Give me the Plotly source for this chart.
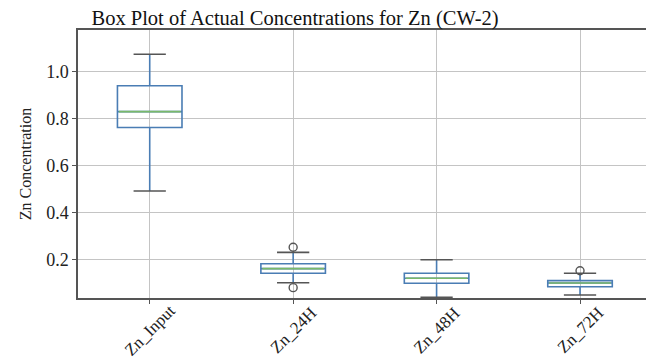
import plotly.graph_objects as go

categories = ["Zn_Input", "Zn_24H", "Zn_48H", "Zn_72H"]
q1 = [0.762, 0.142, 0.100, 0.085]
median = [0.830, 0.162, 0.121, 0.101]
q3 = [0.940, 0.183, 0.142, 0.111]
lower_whisker = [0.492, 0.102, 0.040, 0.050]
upper_whisker = [1.074, 0.231, 0.200, 0.142]
fliers = [[], [0.253, 0.081], [], [0.153]]

BOX_W = 0.45
CAP_W = 0.225
BLUE = "#4a7db4"
GREEN = "#7ab96a"
GRAY = "#555555"
SERIF = "Liberation Serif"

positions = list(range(len(categories)))
fig = go.Figure()

for i, cat in enumerate(categories):
    fig.add_trace(go.Box(
        x=[positions[i]], q1=[q1[i]], median=[median[i]], q3=[q3[i]],
        lowerfence=[lower_whisker[i]], upperfence=[upper_whisker[i]],
        width=BOX_W, whiskerwidth=0.0001,
        fillcolor="rgba(0,0,0,0)", line=dict(color=BLUE, width=1.6),
        boxpoints=False, showlegend=False, hoverinfo="skip", name=cat,
    ))

# medians
mx, my = [], []
for i in positions:
    mx += [i - BOX_W / 2 + 0.01, i + BOX_W / 2 - 0.01, None]
    my += [median[i], median[i], None]
fig.add_trace(go.Scatter(x=mx, y=my, mode="lines", line=dict(color=GREEN, width=1.6),
                         showlegend=False, hoverinfo="skip"))

# caps
cx, cy = [], []
for i in positions:
    for v in (lower_whisker[i], upper_whisker[i]):
        cx += [i - CAP_W / 2, i + CAP_W / 2, None]
        cy += [v, v, None]
fig.add_trace(go.Scatter(x=cx, y=cy, mode="lines", line=dict(color=GRAY, width=1.6),
                         showlegend=False, hoverinfo="skip"))

# fliers
fx, fy = [], []
for i in positions:
    for v in fliers[i]:
        fx.append(i)
        fy.append(v)
fig.add_trace(go.Scatter(x=fx, y=fy, mode="markers",
                         marker=dict(symbol="circle-open", size=8, color=GRAY, line=dict(width=1.4)),
                         showlegend=False, hoverinfo="skip"))

# rotated category labels, centred under each tick
for i, cat in enumerate(categories):
    fig.add_annotation(x=positions[i], xref="x", y=-0.12, yref="paper",
                       text=cat, textangle=-45, showarrow=False,
                       xanchor="center", yanchor="middle",
                       font=dict(family=SERIF, size=17, color="#222222"))

fig.update_layout(
    width=646, height=361,
    margin=dict(l=78, r=0, t=30, b=63),
    paper_bgcolor="white", plot_bgcolor="white",
    title=dict(text="Box Plot of Actual Concentrations for Zn (CW-2)",
               x=295 / 646, xref="container", xanchor="center",
               y=1 - 18 / 361, yref="container", yanchor="middle",
               font=dict(family=SERIF, size=20.5, color="#111111")),
    font=dict(family=SERIF, color="#222222"),
)
fig.update_xaxes(
    range=[-0.5, 3.46], tickmode="array", tickvals=positions, showticklabels=False,
    automargin=False,
    showgrid=True, gridcolor="#c4c4c4", gridwidth=1.3,
    showline=True, linecolor=GRAY, linewidth=1.5, mirror=True,
    ticks="outside", ticklen=4, tickcolor=GRAY, zeroline=False,
)
fig.update_yaxes(
    range=[0.037, 1.177], tickvals=[0.2, 0.4, 0.6, 0.8, 1.0],
    ticktext=["0.2", "0.4", "0.6", "0.8", "1.0"], automargin=False,
    tickfont=dict(family=SERIF, size=18, color="#222222"),
    title=dict(text="Zn Concentration", font=dict(family=SERIF, size=16, color="#222222"), standoff=11),
    showgrid=True, gridcolor="#c4c4c4", gridwidth=1.3,
    showline=True, linecolor=GRAY, linewidth=1.5, mirror=True,
    ticks="outside", ticklen=4, tickcolor=GRAY, zeroline=False,
)

fig.write_html("out.html", config={"displayModeBar": False},
               post_script="document.body.style.margin='0';document.body.style.overflow='hidden';")
